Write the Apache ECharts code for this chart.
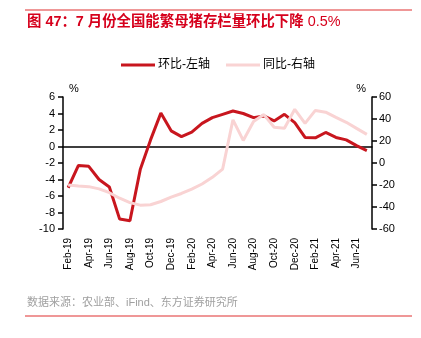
<!DOCTYPE html>
<html><head><meta charset="utf-8">
<script src="https://cdn.jsdelivr.net/npm/echarts@6/dist/echarts.min.js"></script>
<style>html,body{margin:0;padding:0;background:#fff}#c{width:421px;height:338px}</style>
</head><body><div id="c"></div>
<script>
const categories = ['Feb-19','Mar-19','Apr-19','May-19','Jun-19','Jul-19','Aug-19','Sep-19','Oct-19','Nov-19','Dec-19',
  'Jan-20','Feb-20','Mar-20','Apr-20','May-20','Jun-20','Jul-20','Aug-20','Sep-20','Oct-20','Nov-20','Dec-20',
  'Jan-21','Feb-21','Mar-21','Apr-21','May-21','Jun-21','Jul-21'];
const momValues = [-5.0,-2.3,-2.4,-4.0,-4.9,-8.8,-9.0,-2.8,0.8,4.05,1.9,1.2,1.75,2.8,3.5,3.9,4.3,4.0,3.5,3.7,3.1,3.9,2.9,1.1,1.05,1.7,1.1,0.8,0.1,-0.5];
const yoyValues = [-20,-21,-21.5,-23.5,-27,-32,-36,-38.3,-38,-35,-31,-27.7,-23.7,-19.1,-13,-5.5,39.2,20.5,37.8,44,32.5,31.6,48.8,36,47.8,46.2,41.5,37,31.5,26];
const seriesNames = ['环比-左轴','同比-右轴'];
const titleMain = '图 47：7 月份全国能繁母猪存栏量环比下降';
const titleTail = '0.5%';
const sourceText = '数据来源：农业部、iFind、东方证券研究所';

const FONT = '"Liberation Sans", Arial, "Noto Sans CJK SC", sans-serif';
const chart = echarts.init(document.getElementById('c'));
const option = {
  animation: false,
  textStyle: { fontFamily: FONT },
  title: {
    text: '{b|' + titleMain + '} {n|' + titleTail + '}', left: 27, top: 15, padding: 0,
    textStyle: {
      color: '#d6001c', fontSize: 14.4, fontFamily: FONT,
      rich: {
        b: { color: '#d6001c', fontSize: 14.4, fontWeight: 'bold', fontFamily: FONT },
        n: { color: '#d6001c', fontSize: 14.4, fontWeight: 'normal', fontFamily: FONT }
      }
    }
  },
  legend: {
    left: 121, top: 59, padding: 0, itemGap: 16,
    itemWidth: 34, itemHeight: 3, icon: 'rect',
    textStyle: { fontSize: 12, color: '#000', fontFamily: FONT, padding: [0,0,0,-2] },
    data: seriesNames
  },
  grid: { left: 63, right: 49, top: 97, bottom: 109 },
  xAxis: [
    {
      type: 'category', data: categories, boundaryGap: true,
      axisLine: { onZero: true, lineStyle: { color: '#000', width: 1.5 } },
      axisTick: { interval: 1, length: 5, lineStyle: { color: '#000', width: 1.5 } },
      axisLabel: { show: false }, splitLine: { show: false }
    },
    {
      type: 'category', data: categories, boundaryGap: true, position: 'bottom',
      axisLine: { show: false, onZero: false }, axisTick: { show: false },
      axisLabel: { interval: 1, rotate: 90, fontSize: 10, color: '#000', margin: 9 },
      splitLine: { show: false }
    }
  ],
  yAxis: [
    {
      type: 'value', min: -10, max: 6, interval: 2, name: '%', nameGap: 3,
      nameTextStyle: { fontSize: 11, color: '#000', align: 'left', padding: [0,0,0,6] },
      axisLine: { show: true, lineStyle: { color: '#000', width: 1.5 } },
      axisTick: { show: true, length: 5, lineStyle: { color: '#000', width: 1.5 } },
      axisLabel: { fontSize: 11, color: '#000', margin: 8 },
      splitLine: { show: false }
    },
    {
      type: 'value', min: -60, max: 60, interval: 20, position: 'right', name: '%', nameGap: 3,
      nameTextStyle: { fontSize: 11, color: '#000', align: 'right', padding: [0,6,0,0] },
      axisLine: { show: true, lineStyle: { color: '#000', width: 1.5 } },
      axisTick: { show: true, length: 5, lineStyle: { color: '#000', width: 1.5 } },
      axisLabel: { fontSize: 11, color: '#000', margin: 7 },
      splitLine: { show: false }
    }
  ],
  series: [
    {
      name: seriesNames[0], type: 'line', data: momValues, yAxisIndex: 0, xAxisIndex: 0,
      symbol: 'none', lineStyle: { color: '#c8161e', width: 3 }, itemStyle: { color: '#c8161e' }
    },
    {
      name: seriesNames[1], type: 'line', data: yoyValues, yAxisIndex: 1, xAxisIndex: 0,
      symbol: 'none', lineStyle: { color: '#f9d3d3', width: 3 }, itemStyle: { color: '#f9d3d3' }
    }
  ],
  graphic: [
    { type: 'line', shape: { x1: 25, y1: 10, x2: 412, y2: 10 }, style: { stroke: '#e03030', lineWidth: 1.2 } },
    { type: 'line', shape: { x1: 25, y1: 316, x2: 412, y2: 316 }, style: { stroke: '#e03030', lineWidth: 1.2 } },
    { type: 'text', left: 27, top: 297, style: { text: sourceText, fill: '#a0a0a0', fontSize: 11, fontFamily: FONT } }
  ]
};
chart.setOption(option);
</script>
</body></html>
